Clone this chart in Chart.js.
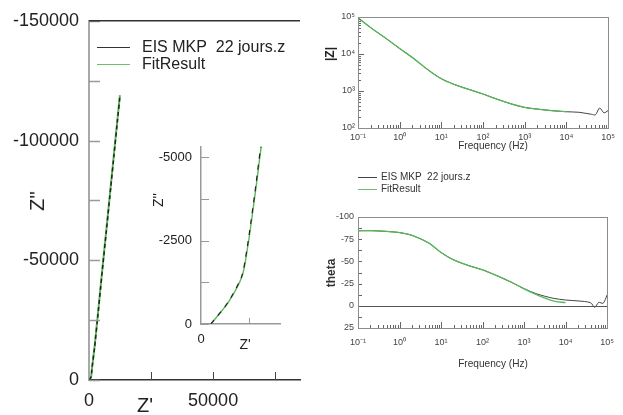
<!DOCTYPE html>
<html>
<head>
<meta charset="utf-8">
<script src="https://cdn.jsdelivr.net/npm/chart.js@4.4.1/dist/chart.umd.min.js"></script>
<style>
  body { margin: 0; background: #fff; width: 623px; height: 415px; position: relative; overflow: hidden;
         font-family: "Liberation Sans", Arial, sans-serif; color: #222; }
  .box { position: absolute; }
  .t { position: absolute; white-space: nowrap; transform: translate(-50%, -50%); line-height: 1; }
  .rot { transform: translate(-50%, -50%) rotate(-90deg); }
  .cond { transform: translate(-50%, -50%) scaleX(0.92); }
  .narrow { font-family: "Liberation Sans Narrow", "Liberation Sans", Arial, sans-serif; }
  .leg { position: absolute; white-space: nowrap; }
  .leg .row { position: relative; }
  .leg .sw { position: absolute; left: 0; border-top-style: solid; }
</style>
</head>
<body>
<div class="box" style="left:0;top:0;width:310px;height:415px"><canvas id="nyq" width="310" height="415"></canvas></div>
<div class="box" style="left:150px;top:130px;width:140px;height:220px"><canvas id="inset" width="140" height="220"></canvas></div>
<div class="box" style="left:310px;top:0;width:313px;height:160px"><canvas id="bodeMod" width="313" height="160"></canvas></div>
<div class="box" style="left:310px;top:200px;width:313px;height:215px"><canvas id="bodePh" width="313" height="215"></canvas></div>

<div class="t rot" style="left:37px;top:201px;font-size:20px">Z''</div>
<div class="t" style="left:145px;top:405px;font-size:20px">Z'</div>
<div class="t rot" style="left:158px;top:200px;font-size:14px">Z''</div>
<div class="t" style="left:245px;top:344px;font-size:14px">Z'</div>
<div class="t rot" style="left:330px;top:54px;font-size:12px;font-weight:bold">|Z|</div>
<div class="t cond" style="left:493px;top:145px;font-size:11px;color:#333">Frequency (Hz)</div>
<div class="t rot" style="left:331px;top:273px;font-size:12px;font-weight:bold;color:#333">theta</div>
<div class="t cond" style="left:493px;top:363px;font-size:11px;color:#333">Frequency (Hz)</div>

<div class="leg" style="left:97px;top:38px;font-size:16px;line-height:17px">
  <div class="row"><span class="sw" style="top:9px;width:33px;border-top-width:1px;border-color:#333"></span><span style="margin-left:45px">EIS MKP&nbsp; 22 jours.z</span></div>
  <div class="row"><span class="sw" style="top:9px;width:33px;border-top-width:1px;border-color:#6cc06c"></span><span style="margin-left:45px">FitResult</span></div>
</div>
<div class="leg narrow" style="left:358px;top:171px;font-size:10px;line-height:12px;color:#333">
  <div class="row"><span class="sw" style="top:6px;width:19px;border-top-width:1px;border-color:#444"></span><span style="margin-left:23px">EIS MKP&nbsp; 22 jours.z</span></div>
  <div class="row"><span class="sw" style="top:6px;width:19px;border-top-width:1px;border-color:#6cc06c"></span><span style="margin-left:23px">FitResult</span></div>
</div>

<script>
// Nyquist: measured data and fit (ohm)
const nyqRe = [208, 560, 850, 960, 1040, 1150, 1250, 2280, 3630, 5600, 6900, 8770, 10100, 11440, 12500];
const nyqIm = [0, -643, -1430, -2250, -3040, -4210, -5320, -13800, -27600, -48200, -61300, -80600, -94300, -108100, -118900];
const fitRe = [205, 570, 860, 970, 1050, 1160, 1260, 2250, 3600, 5560, 6860, 8730, 10060, 11400, 12450];
const fitIm = [0, -650, -1440, -2260, -3050, -4220, -5330, -13900, -27700, -48300, -61400, -80700, -94400, -108200, -119000];

// Bode: measured data
const freq = [0.1, 0.2, 0.5, 1, 2, 5, 10, 20, 50, 100, 200, 500, 1000, 2000, 5000, 10000, 20000, 40000, 50000, 63000, 80000, 100000];
const zMod = [95000, 52000, 25000, 14000, 8100, 3600, 2150, 1520, 1070, 830, 620, 440, 360, 325, 292, 275, 266, 235, 228, 347, 257, 295];
const zPhase = [-84.5, -84.6, -83.7, -82.5, -79.3, -70.8, -60, -51.7, -44.8, -40.5, -34.8, -26.3, -19.3, -13.5, -8.5, -6.5, -5.5, -3.5, 1.7, -3.9, -2.8, -12.2];

// Bode: fit
const fitFreq = [0.1, 0.2, 0.5, 1, 2, 5, 10, 20, 50, 100, 200, 500, 1000, 2000, 5000, 10000];
const fitMod = [95000, 52000, 25000, 14000, 8100, 3600, 2150, 1520, 1070, 830, 620, 440, 360, 322, 290, 278];
const fitPhase = [-84.5, -84.6, -83.7, -82.5, -79.3, -70.8, -60, -51.7, -44.8, -40.5, -34.8, -26.5, -19.0, -12.5, -5.5, -3.5];

// tick labels
const nyqXLabels = [0, 50000];
const nyqYLabels = [0, -50000, -100000, -150000];
const insetYLabels = [0, -2500, -5000];
const insetXLabels = [0];
const freqTicks = [0.1, 1, 10, 100, 1000, 10000, 100000];
const modTicks = [100, 1000, 10000, 100000];
const phaseTicks = [-100, -75, -50, -25, 0, 25];

const LEG_DATA = "EIS MKP  22 jours.z";
const LEG_FIT = "FitResult";
const BLACK = "#222";
const GREEN = "#58b858";
const FONT = "'Liberation Sans', Arial, sans-serif";
const NARROW = "'Liberation Sans Narrow', 'Liberation Sans', Arial, sans-serif";

const zip = (xs, ys) => xs.map((x, i) => ({ x, y: ys[i] }));

const sup = { "-": "\u207b", "0": "\u2070", "1": "\u00b9", "2": "\u00b2", "3": "\u00b3", "4": "\u2074", "5": "\u2075" };
const pow10 = (v) => "10" + String(Math.round(Math.log10(v))).split("").map(c => sup[c]).join("");

const logMinors = (min, max) => {
    const out = [];
    for (let e = Math.floor(Math.log10(min)); e < Math.log10(max) - 1e-9; e++) {
        for (let k = 2; k <= 9; k++) {
            out.push(k * Math.pow(10, e));
        }
    }
    return out;
};
const linMarks = (min, max, step) => {
    const out = [];
    for (let v = min; v <= max + 1e-9; v += step) {
        out.push(v);
    }
    return out;
};

// inward tick marks, extra frame lines and zero line
const frame = {
    id: "frame",
    afterDraw(chart, args, o) {
        const ctx = chart.ctx;
        const a = chart.chartArea;
        const line = (x1, y1, x2, y2, c, w) => {
            ctx.beginPath();
            ctx.strokeStyle = c;
            ctx.lineWidth = w;
            ctx.moveTo(x1, y1);
            ctx.lineTo(x2, y2);
            ctx.stroke();
        };
        ctx.save();
        (o.marks || []).forEach(m => {
            const s = chart.scales[m.axis];
            m.values.forEach(v => {
                const p = Math.round(s.getPixelForValue(v)) + 0.5;
                if (m.axis === "x") {
                    line(p, a.bottom, p, a.bottom - m.len, m.color, m.width || 1);
                } else {
                    line(a.left, p, a.left + m.len, p, m.color, m.width || 1);
                }
            });
        });
        if (o.zero) {
            const p = Math.round(chart.scales.y.getPixelForValue(0)) + 0.5;
            line(a.left, p, a.right, p, o.zero.color, o.zero.width);
        }
        if (o.box) {
            ctx.strokeStyle = o.box.color;
            ctx.lineWidth = o.box.width;
            ctx.strokeRect(Math.round(a.left) + 0.5, Math.round(a.top) + 0.5, Math.round(a.right - a.left), Math.round(a.bottom - a.top));
        }
        if (o.top) {
            line(a.left, a.top, a.right, a.top, o.top.color, o.top.width);
        }
        ctx.restore();
    }
};
Chart.register(frame);

const base = (pad, plugins) => ({
    responsive: false,
    animation: false,
    devicePixelRatio: 1,
    layout: { padding: pad },
    plugins: Object.assign({ legend: { display: false }, tooltip: { enabled: false } }, plugins)
});

const lineDs = (label, data, color, width, extra) => Object.assign({
    label, data, borderColor: color, backgroundColor: color, borderWidth: width,
    pointRadius: 0, showLine: true, fill: false, tension: 0.3
}, extra || {});

// main Nyquist
new Chart(document.getElementById("nyq"), {
    type: "scatter",
    data: {
        datasets: [
            lineDs(LEG_DATA, zip(nyqRe, nyqIm), BLACK, 1.5, { borderDash: [4, 3], order: 1, tension: 0.1 }),
            lineDs(LEG_FIT, zip(fitRe, fitIm), GREEN, 2, { order: 2, tension: 0.1 })
        ]
    },
    options: Object.assign(base({ top: 17, right: 10, left: 0, bottom: 0 }, {
        frame: {
            top: { color: "#333", width: 1.5 },
            marks: [
                { axis: "x", values: [25000, 50000, 75000], len: 8, color: "#444" },
                { axis: "y", values: linMarks(-150000, 0, 25000), len: 11, color: "#999", width: 1.5 }
            ]
        }
    }), {
        scales: {
            x: {
                type: "linear", min: 0, max: 85000,
                grid: { display: false, drawTicks: false },
                border: { color: "#333", width: 1.5 },
                afterBuildTicks: s => { s.ticks = nyqXLabels.map(v => ({ value: v })); },
                afterFit: s => { s.height = 35; },
                ticks: { padding: 10, maxRotation: 0, color: "#222", font: { family: FONT, size: 18 }, callback: v => String(v) }
            },
            y: {
                type: "linear", min: -150000, max: 0, reverse: true,
                grid: { display: false, drawTicks: false },
                border: { color: "#a8a8a8", width: 2 },
                afterBuildTicks: s => { s.ticks = nyqYLabels.map(v => ({ value: v })); },
                afterFit: s => { s.width = 89; },
                ticks: { padding: 10, color: "#222", font: { family: FONT, size: 18 }, callback: v => String(v) }
            }
        }
    })
});

// inset Nyquist (high frequency part)
new Chart(document.getElementById("inset"), {
    type: "scatter",
    data: {
        datasets: [
            lineDs(LEG_DATA, zip(nyqRe, nyqIm), BLACK, 1.2, { borderDash: [5, 6], order: 1, tension: 0.25 }),
            lineDs(LEG_FIT, zip(fitRe, fitIm), GREEN, 1.4, { order: 2, tension: 0.25 })
        ]
    },
    options: Object.assign(base({ top: 12, right: 10, left: 0, bottom: 0 }, {
        frame: {
            marks: [
                { axis: "x", values: [1000], len: 6, color: "#999" },
                { axis: "y", values: linMarks(-5000, 0, 1250), len: 8, color: "#999" }
            ]
        }
    }), {
        scales: {
            x: {
                type: "linear", min: 0, max: 1650,
                grid: { display: false, drawTicks: false },
                border: { color: "#999", width: 1.5 },
                afterBuildTicks: s => { s.ticks = insetXLabels.map(v => ({ value: v })); },
                afterFit: s => { s.height = 26; },
                ticks: { padding: 8, maxRotation: 0, color: "#222", font: { family: FONT, size: 13 }, callback: v => String(v) }
            },
            y: {
                type: "linear", min: -5320, max: 0, reverse: true,
                grid: { display: false, drawTicks: false },
                border: { color: "#999", width: 1.5 },
                afterBuildTicks: s => { s.ticks = insetYLabels.map(v => ({ value: v })); },
                afterFit: s => { s.width = 51; },
                ticks: { padding: 9, color: "#222", font: { family: FONT, size: 13 }, callback: v => String(v) }
            }
        }
    })
});

const freqMarks = [
    { axis: "x", values: freqTicks, len: 6, color: "#666" },
    { axis: "x", values: logMinors(0.1, 100000), len: 3, color: "#666" }
];

// Bode modulus
new Chart(document.getElementById("bodeMod"), {
    type: "scatter",
    data: {
        datasets: [
            lineDs(LEG_DATA, zip(freq, zMod), "#444", 1, { order: 2 }),
            lineDs(LEG_FIT, zip(fitFreq, fitMod), GREEN, 1.3, { order: 1 })
        ]
    },
    options: Object.assign(base({ top: 17, right: 15, left: 0, bottom: 0 }, {
        frame: {
            box: { color: "#8c8c8c", width: 1 },
            marks: freqMarks.concat([
                { axis: "y", values: modTicks, len: 6, color: "#666" },
                { axis: "y", values: logMinors(100, 100000), len: 3, color: "#666" }
            ])
        }
    }), {
        scales: {
            x: {
                type: "logarithmic", min: 0.1, max: 100000,
                grid: { display: false, drawTicks: false },
                border: { display: false },
                afterBuildTicks: s => { s.ticks = freqTicks.map(v => ({ value: v })); },
                afterFit: s => { s.height = 32; },
                ticks: { padding: 4, maxRotation: 0, autoSkip: false, color: "#444", font: { family: NARROW, size: 9 }, callback: v => pow10(v) }
            },
            y: {
                type: "logarithmic", min: 100, max: 100000,
                grid: { display: false, drawTicks: false },
                border: { display: false },
                afterBuildTicks: s => { s.ticks = modTicks.map(v => ({ value: v })); },
                afterFit: s => { s.width = 48; },
                ticks: { padding: 3, autoSkip: false, color: "#444", font: { family: NARROW, size: 9 }, callback: v => pow10(v) }
            }
        }
    })
});

// Bode phase
new Chart(document.getElementById("bodePh"), {
    type: "scatter",
    data: {
        datasets: [
            lineDs(LEG_DATA, zip(freq, zPhase), "#444", 1, { order: 2 }),
            lineDs(LEG_FIT, zip(fitFreq, fitPhase), GREEN, 1.3, { order: 1 })
        ]
    },
    options: Object.assign(base({ top: 17, right: 15, left: 0, bottom: 0 }, {
        frame: {
            box: { color: "#8c8c8c", width: 1 },
            zero: { color: "#555", width: 1.2 },
            marks: freqMarks.concat([
                { axis: "y", values: linMarks(-100, 25, 12.5), len: 4, color: "#666" }
            ])
        }
    }), {
        scales: {
            x: {
                type: "logarithmic", min: 0.1, max: 100000,
                grid: { display: false, drawTicks: false },
                border: { display: false },
                afterBuildTicks: s => { s.ticks = freqTicks.map(v => ({ value: v })); },
                afterFit: s => { s.height = 87; },
                ticks: { padding: 9, maxRotation: 0, autoSkip: false, color: "#444", font: { family: NARROW, size: 9 }, callback: v => pow10(v) }
            },
            y: {
                type: "linear", min: -100, max: 25, reverse: true,
                grid: { display: false, drawTicks: false },
                border: { display: false },
                afterBuildTicks: s => { s.ticks = phaseTicks.map(v => ({ value: v })); },
                afterFit: s => { s.width = 48; },
                ticks: { padding: 4, autoSkip: false, color: "#444", font: { family: NARROW, size: 9 }, callback: v => String(v) }
            }
        }
    })
});
</script>
</body>
</html>
